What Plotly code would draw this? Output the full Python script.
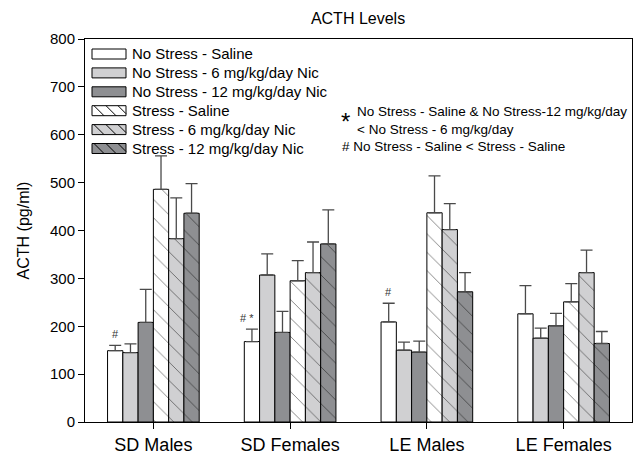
import plotly.graph_objects as go

# Groups along the x axis
groups = ["SD Males", "SD Females", "LE Males", "LE Females"]

# Treatment series (legend order)
series_names = [
    "No Stress - Saline",
    "No Stress - 6 mg/kg/day Nic",
    "No Stress - 12 mg/kg/day Nic",
    "Stress - Saline",
    "Stress - 6 mg/kg/day Nic",
    "Stress - 12 mg/kg/day Nic",
]

# Mean ACTH (pg/ml) per group for each series
ns_saline = [149, 168, 209, 226]
ns_nic6 = [145, 307, 150, 175]
ns_nic12 = [208, 187, 146, 201]
s_saline = [486, 295, 437, 251]
s_nic6 = [383, 312, 402, 312]
s_nic12 = [436, 372, 272, 164]

# SEM (upper whisker only)
ns_saline_err = [11, 26, 39, 59]
ns_nic6_err = [18, 44, 17, 21]
ns_nic12_err = [69, 44, 23, 26]
s_saline_err = [70, 42, 77, 38]
s_nic6_err = [85, 64, 54, 47]
s_nic12_err = [62, 71, 40, 25]

means = [ns_saline, ns_nic6, ns_nic12, s_saline, s_nic6, s_nic12]
errs = [ns_saline_err, ns_nic6_err, ns_nic12_err, s_saline_err, s_nic6_err, s_nic12_err]

fills = ["#ffffff", "#d0d0d2", "#8e8f92", "#ffffff", "#d0d0d2", "#8e8f92"]
hatched = [False, False, False, True, True, True]

W, H = 637, 462
ml, mr, mt, mb = 85, 5, 39, 40
pw, ph = W - ml - mr, H - mt - mb


def px(x):
    return (x - ml) / pw


def py(y):
    return 1 - (y - mt) / ph


fig = go.Figure()
for name, y, e, col, h in zip(series_names, means, errs, fills, hatched):
    pattern = dict(shape="\\", fgcolor="black", bgcolor=col, size=13, solidity=0.07) if h else dict(shape="")
    fig.add_trace(go.Bar(
        name=name,
        x=list(range(len(groups))),
        y=y,
        showlegend=False,
        marker=dict(color=col, line=dict(color="black", width=1), pattern=pattern),
        error_y=dict(type="data", symmetric=False, array=e, arrayminus=[0] * len(e),
                     color="#4a4a4a", thickness=1.3, width=6),
    ))

bargap = 0.33
bar_w = (1 - bargap) / len(series_names)
first_offset = -2.5 * bar_w

# Significance markers above the No Stress - Saline bars
marks = {0: "#", 1: "# *", 2: "#"}
for gi, txt in marks.items():
    fig.add_annotation(
        x=gi + first_offset, y=ns_saline[gi] + ns_saline_err[gi],
        xref="x", yref="y", text=txt, showarrow=False,
        yanchor="bottom", yshift=3, xshift=-5 if gi == 1 else 0,
        font=dict(size=11, color="#333333", family="Arial"),
    )

# Legend drawn as wide swatches with labels
sw_x0, sw_x1, sw_h = 92, 126, 10
row_y0, row_dy = 54, 18.9
for i, (name, col, h) in enumerate(zip(series_names, fills, hatched)):
    cy = row_y0 + i * row_dy
    top, bot = cy - sw_h / 2, cy + sw_h / 2
    fig.add_shape(type="rect", xref="paper", yref="paper",
                  x0=px(sw_x0), x1=px(sw_x1), y0=py(bot), y1=py(top),
                  fillcolor=col, line=dict(color="black", width=1))
    if h:
        for k in range(3):
            xa = sw_x0 + 2 + k * 12
            xb = min(xa + 10, sw_x1)
            yb = top + (xb - xa)
            fig.add_shape(type="line", xref="paper", yref="paper",
                          x0=px(xa), y0=py(top), x1=px(xb), y1=py(yb),
                          line=dict(color="black", width=1))
    fig.add_annotation(x=px(130), y=py(cy), xref="paper", yref="paper", text=name,
                       showarrow=False, xanchor="left", yanchor="middle",
                       font=dict(size=15, family="Arial", color="black"))

# Significance key
fig.add_annotation(x=px(345), y=py(106), xref="paper", yref="paper", text="*", showarrow=False,
                   font=dict(size=24, family="Arial", color="black"))
key_lines = [
    ("No Stress - Saline & No Stress-12 mg/kg/day", 355, 112, 13.5),
    ("< No Stress - 6 mg/kg/day", 355, 129, 13.5),
    ("# No Stress - Saline < Stress - Saline", 340, 146, 13.5),
]
for txt, kx, ky, fs in key_lines:
    fig.add_annotation(x=px(kx), y=py(ky), xref="paper", yref="paper", text=txt, showarrow=False,
                       xanchor="left", yanchor="middle",
                       font=dict(size=fs, family="Arial", color="black"))

fig.update_layout(
    width=W, height=H,
    margin=dict(l=ml, r=mr, t=mt, b=mb),
    paper_bgcolor="white", plot_bgcolor="white",
    barmode="group", bargap=bargap, bargroupgap=0,
    font=dict(family="Arial", color="black"),
    title=dict(text="ACTH Levels", x=358 / W, xanchor="center", y=1 - 18 / H, yanchor="middle",
               font=dict(size=16, family="Arial", color="black")),
    showlegend=False,
)
fig.update_xaxes(
    tickmode="array", tickvals=list(range(len(groups))), ticktext=groups,
    range=[-0.5, len(groups) - 0.5],
    showline=True, linecolor="black", linewidth=1, mirror=True,
    ticks="outside", ticklen=6, tickcolor="black",
    tickfont=dict(size=18, family="Arial", color="black"), showgrid=False, zeroline=False,
)
fig.update_yaxes(
    range=[0, 800], dtick=100, tick0=0,
    showline=True, linecolor="black", linewidth=1, mirror=True,
    ticks="outside", ticklen=6, tickcolor="black",
    tickfont=dict(size=15, family="Arial", color="black"),
    title=dict(text="ACTH (pg/ml)", font=dict(size=16, family="Arial", color="black"), standoff=16),
    showgrid=False, zeroline=False,
)

fig.write_html("out.html")
